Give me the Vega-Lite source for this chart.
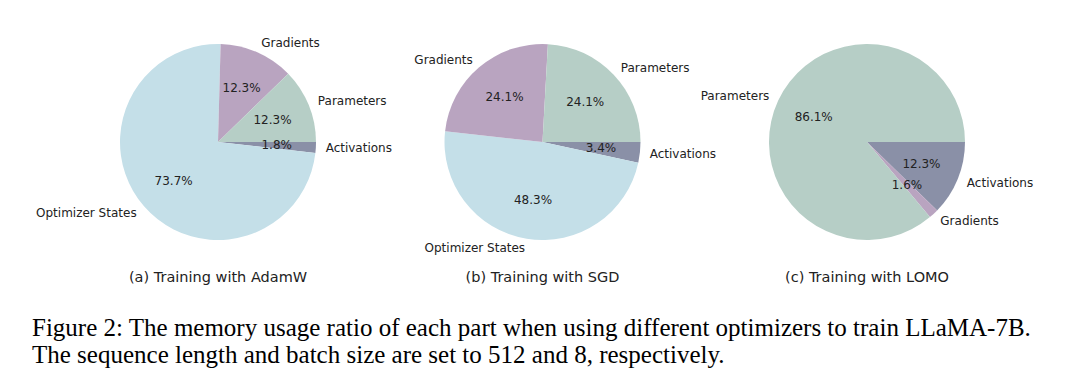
{
  "$schema": "https://vega.github.io/schema/vega-lite/v6.json",
  "autosize": {"type": "pad"},
  "padding": {"left": 32, "top": 22, "right": 0, "bottom": 0},
  "background": "white",
  "bounds": "flush",
  "data": {"values": [
    {"chart": "(a) Training with AdamW", "part": "Activations", "o": 1, "share": 0.018},
    {"chart": "(a) Training with AdamW", "part": "Optimizer States", "o": 2, "share": 0.737},
    {"chart": "(a) Training with AdamW", "part": "Gradients", "o": 3, "share": 0.123},
    {"chart": "(a) Training with AdamW", "part": "Parameters", "o": 4, "share": 0.123},
    {"chart": "(b) Training with SGD", "part": "Activations", "o": 1, "share": 0.034},
    {"chart": "(b) Training with SGD", "part": "Optimizer States", "o": 2, "share": 0.483},
    {"chart": "(b) Training with SGD", "part": "Gradients", "o": 3, "share": 0.241},
    {"chart": "(b) Training with SGD", "part": "Parameters", "o": 4, "share": 0.241},
    {"chart": "(c) Training with LOMO", "part": "Activations", "o": 1, "share": 0.123},
    {"chart": "(c) Training with LOMO", "part": "Gradients", "o": 3, "share": 0.016},
    {"chart": "(c) Training with LOMO", "part": "Parameters", "o": 4, "share": 0.861}
  ]},
  "facet": {"column": {"field": "chart", "type": "nominal", "header": {"title": null, "labelOrient": "bottom", "labelFont": "DejaVu Sans", "labelFontSize": 14.5, "labelColor": "#222", "labelPadding": 9}}},
  "spacing": 64.5,
  "resolve": {"scale": {"theta": "independent"}},
  "title": {
    "text": ["Figure 2: The memory usage ratio of each part when using different optimizers to train LLaMA-7B.", "The sequence length and batch size are set to 512 and 8, respectively."],
    "orient": "bottom", "anchor": "start", "frame": "group", "dx": -56,
    "font": "Liberation Serif", "fontSize": 25, "fontWeight": "normal", "color": "#000", "lineHeight": 27, "offset": 31
  },
  "spec": {
    "width": 260,
    "height": 240,
    "encoding": {
      "theta": {"field": "share", "type": "quantitative", "stack": true, "scale": {"range": [1.5708, 7.854]}},
      "order": {"field": "o", "type": "quantitative"}
    },
    "layer": [
      {
        "mark": {"type": "arc", "outerRadius": 98},
        "encoding": {
          "color": {"field": "part", "type": "nominal", "legend": null,
            "scale": {"domain": ["Parameters", "Gradients", "Optimizer States", "Activations"], "range": ["#b6cec6", "#b9a4c0", "#c4dfe8", "#8a90a7"]}}
        }
      },
      {
        "mark": {"type": "text", "radius": 58.8, "font": "DejaVu Sans", "fontSize": 12, "fill": "#222", "baseline": "middle"},
        "encoding": {"text": {"field": "share", "type": "quantitative", "format": ".1%"}}
      },
      {
        "mark": {"type": "text", "radius": 107.8, "font": "DejaVu Sans", "fontSize": 12, "fill": "#222", "baseline": "middle",
          "align": {"expr": "(datum.share_start + datum.share_end) / 2 > 0.25 && (datum.share_start + datum.share_end) / 2 < 0.75 ? 'right' : 'left'"}},
        "encoding": {"text": {"field": "part", "type": "nominal"}}
      }
    ]
  },
  "config": {"view": {"stroke": null}}
}
